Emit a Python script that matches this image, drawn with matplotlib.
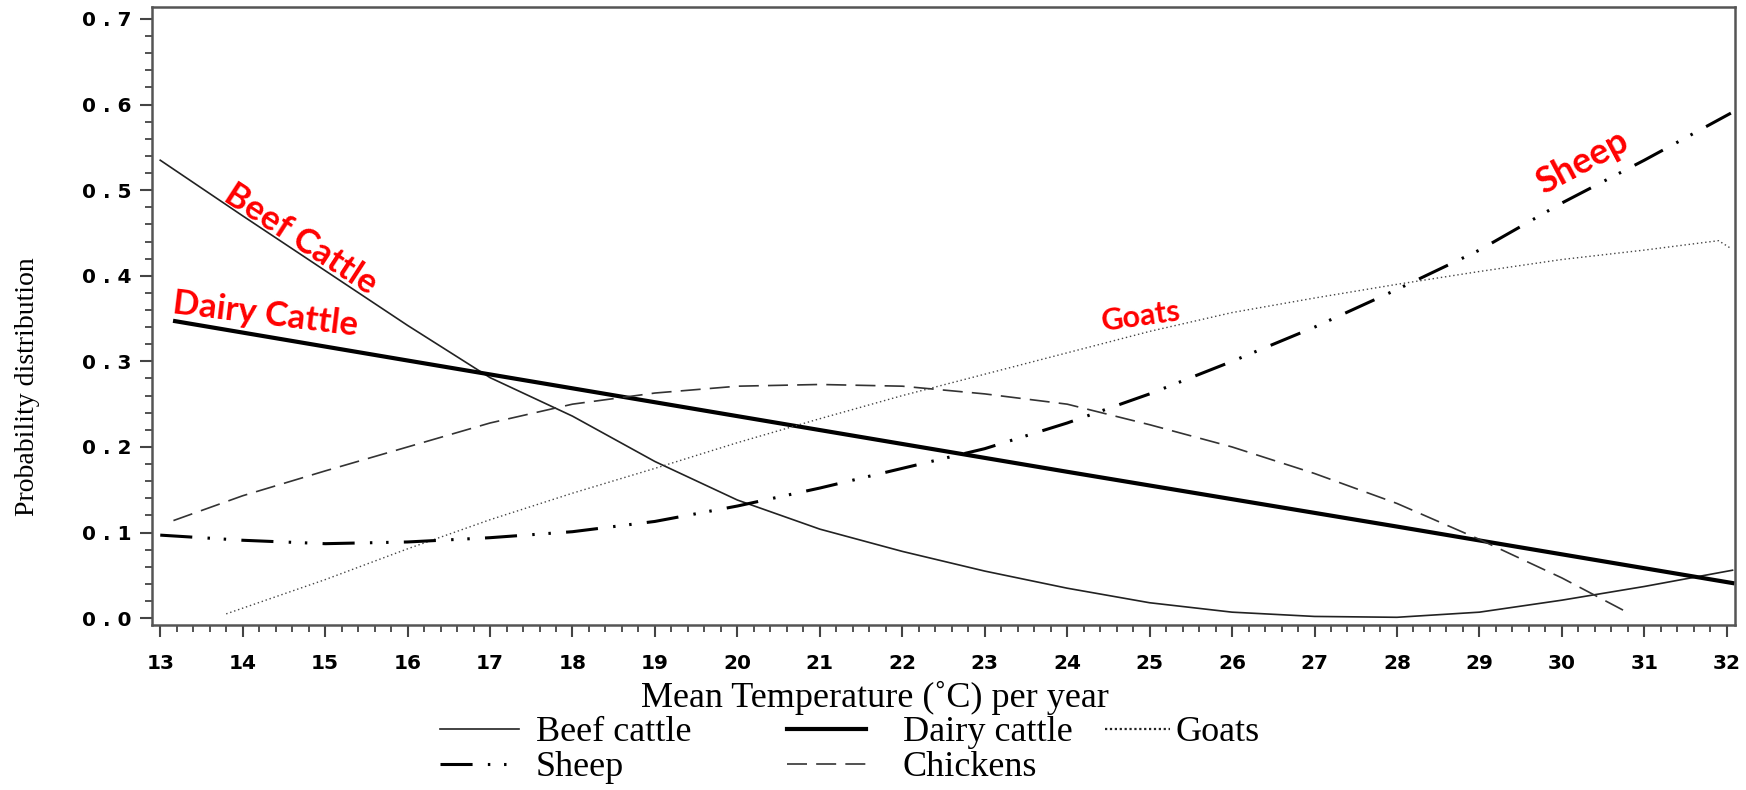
import matplotlib
matplotlib.use("Agg")
import matplotlib.pyplot as plt
from matplotlib.lines import Line2D
from matplotlib.ticker import MultipleLocator

# values
beef_x = [13, 14, 15, 16, 17, 18, 19, 20, 21, 22, 23, 24, 25, 26, 27, 28, 29, 30, 31, 32.07]
beef_y = [0.535, 0.47, 0.406, 0.342, 0.281, 0.236, 0.183, 0.138, 0.104, 0.078, 0.055, 0.035,
          0.018, 0.007, 0.002, 0.001, 0.007, 0.021, 0.037, 0.056]

dairy_x = [13.18, 16, 20, 24, 28, 32.07]
dairy_y = [0.347, 0.301, 0.236, 0.171, 0.107, 0.041]

goats_x = [13.8, 15, 16, 17, 18, 19, 20, 21, 22, 23, 24, 25, 26, 27, 28, 29, 30, 31, 31.9, 32.05]
goats_y = [0.005, 0.045, 0.081, 0.115, 0.146, 0.175, 0.205, 0.233, 0.26, 0.285, 0.31, 0.335,
           0.357, 0.374, 0.39, 0.405, 0.419, 0.43, 0.441, 0.432]

sheep_x = [13, 14, 15, 16, 17, 18, 19, 20, 21, 22, 23, 24, 25, 26, 27, 28, 29, 30, 31, 32.05]
sheep_y = [0.097, 0.091, 0.087, 0.089, 0.094, 0.101, 0.113, 0.131, 0.152, 0.175, 0.198, 0.228,
           0.262, 0.3, 0.34, 0.384, 0.43, 0.485, 0.535, 0.59]

chick_x = [13.16, 14, 15, 16, 17, 18, 19, 20, 21, 22, 23, 24, 25, 26, 27, 28, 29, 30, 30.75]
chick_y = [0.114, 0.143, 0.172, 0.2, 0.228, 0.25, 0.263, 0.271, 0.273, 0.271, 0.262, 0.25,
           0.226, 0.2, 0.169, 0.134, 0.092, 0.047, 0.009]

xticks = list(range(13, 33))
xtick_labels = [str(v) for v in xticks]
yticks = [0.0, 0.1, 0.2, 0.3, 0.4, 0.5, 0.6, 0.7]
ytick_labels = ['0 . 0', '0 . 1', '0 . 2', '0 . 3', '0 . 4', '0 . 5', '0 . 6', '0 . 7']

# red callouts: text, x, y, rotation, size
callouts = [
    ('Beef Cattle', 14.7, 0.443, -33, 25),
    ('Dairy Cattle', 14.27, 0.355, -7, 25),
    ('Goats', 24.9, 0.352, 8, 22),
    ('Sheep', 30.25, 0.533, 28, 26),
]

W, H = 1746, 790
fig = plt.figure(figsize=(W/100, H/100), dpi=100)
ax = fig.add_axes([152/W, 1-625/H, (1735-152)/W, (625-7)/H])

l_beef, = ax.plot(beef_x, beef_y, color='#222222', lw=1.2, label='Beef cattle')
l_dairy, = ax.plot(dairy_x, dairy_y, color='black', lw=3.0, label='Dairy cattle')
l_goats, = ax.plot(goats_x, goats_y, color='#444444', lw=1.0, dashes=(1, 2), label='Goats')
l_sheep, = ax.plot(sheep_x, sheep_y, color='black', lw=2.2,
                   dashes=(10.5, 5, 0.8, 4.5, 0.8, 5), label='Sheep')
l_chick, = ax.plot(chick_x, chick_y, color='#333333', lw=1.2, dashes=(12, 5.5), label='Chickens')

# the legend sample for goats is drawn with heavier dots than the curve
goats_key = Line2D([], [], color='#222222', lw=1.6, dashes=(1, 1.2), label='Goats')

ax.set_xlim(12.9, 32.1)
ax.set_ylim(-0.008, 0.714)
ax.set_xticks(xticks)
ax.set_xticklabels(xtick_labels)
ax.set_yticks(yticks)
ax.set_yticklabels(ytick_labels)
ax.xaxis.set_minor_locator(MultipleLocator(0.2))
ax.yaxis.set_minor_locator(MultipleLocator(0.02))
ax.tick_params(which='major', direction='out', length=8.6, width=1.5, color='#444444')
ax.tick_params(which='minor', direction='out', length=5, width=1.3, color='#444444')
ax.tick_params(axis='x', which='major', pad=12)
ax.tick_params(axis='y', which='major', pad=6)
for lab in ax.get_xticklabels() + ax.get_yticklabels():
    lab.set_fontfamily('DejaVu Sans')
    lab.set_fontweight('bold')
    lab.set_fontsize(14.5)
for sp in ax.spines.values():
    sp.set_linewidth(1.8)
    sp.set_color('#555555')

for txt, x, y, rot, size in callouts:
    ax.text(x, y, txt, color='red', fontsize=size, fontweight='bold', family='Lato',
            rotation=rot, rotation_mode='anchor', ha='center', va='center')

fig.text(28/W, 1-387/H, 'Probability distribution', rotation=90, ha='center', va='center',
         family='Liberation Serif', fontsize=20)
fig.text(875/W, 1-698/H, 'Mean Temperature (\u02daC) per year', ha='center', va='center',
         family='Liberation Serif', fontsize=26)

# legend in three columns, placed one by one
leg_font = {'family': 'Liberation Serif', 'size': 26}
leg_cols = [
    ([l_beef, l_sheep], 440, 2.2, 0.45),
    ([l_dairy, l_chick], 787, 2.2, 1.0),
    ([goats_key], 1105, 1.8, 0.15),
]
for handles, x0, hlen, hpad in leg_cols:
    fig.legend(handles=handles, loc='upper left', bbox_to_anchor=(x0/W, 1-716/H),
               frameon=False, prop=leg_font, handlelength=hlen, handletextpad=hpad,
               labelspacing=0.05, borderpad=0, borderaxespad=0)

fig.savefig('out.png', dpi=100)
